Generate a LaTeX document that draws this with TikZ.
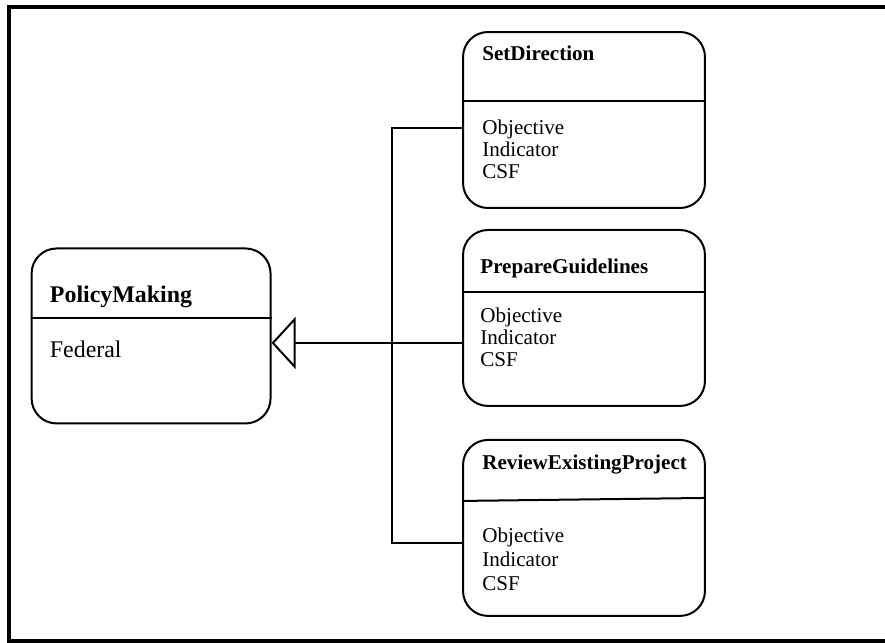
\documentclass[tikz,border=0pt]{standalone}
\usepackage{fontspec}
\setmainfont{Liberation Serif}
\usetikzlibrary{shapes,arrows.meta}
\tikzstyle{classbox} = [rectangle, draw, line width=0.04cm, rounded corners=0.5cm, minimum
width=4.84cm, minimum height=3.52cm, inner sep=0pt]
\tikzstyle{classname} = [anchor=base west, inner sep=0pt, font=\fontsize{12pt}{12.5pt}\selectfont\bfseries]
\tikzstyle{attr} = [anchor=base west, inner sep=0pt, font=\fontsize{12pt}{12.5pt}\selectfont]
\tikzstyle{line} = [draw, line width=0.04cm]
\tikzstyle{inherit} = [draw, line width=0.04cm, -{Triangle[open, length=0.48cm, width=1.04cm]}]
\begin{document}
\begin{tikzpicture}[x=0.02cm, y=-0.02cm]
			\useasboundingbox (0,0) rectangle (885,642);
			\draw [line width=0.08cm] (9,7) rectangle (900,641);
			% class boxes
			\node [classbox] (setdir) at (584,120) {};
			\node [classbox, below of=setdir, node distance=3.96cm] (prepare) {};
			\node [classbox, below of=prepare, node distance=4.2cm] (review) {};
			\node [classbox, left of=prepare, node distance=8.66cm, yshift=-0.36cm, minimum width=4.78cm,
			minimum height=3.5cm] (policy) {};
			% compartments
			\path [line] ([shift={(0,70)}]setdir.north west) -- ([shift={(0,70)}]setdir.north east);
			\path [line] ([shift={(0,63)}]prepare.north west) -- ([shift={(0,63)}]prepare.north east);
			\path [line] ([shift={(0,62)}]review.north west) -- ([shift={(0,59)}]review.north east);
			\path [line] ([shift={(0,71)}]policy.north west) -- ([shift={(0,71)}]policy.north east);
			% names and attributes
			\node [classname] (setdir-name) at ([shift={(20,29)}]setdir.north west) {SetDirection};
			\node [classname] (prepare-name) at ([shift={(18,45)}]prepare.north west) {PrepareGuidelines};
			\node [classname] (review-name) at ([shift={(20,31)}]review.north west) {ReviewExistingProject};
			\node [classname, font=\fontsize{13.6pt}{16pt}\selectfont\bfseries] (policy-name)
			at ([shift={(19,55)}]policy.north west) {PolicyMaking};
			\node [attr, font=\fontsize{13.6pt}{16pt}\selectfont] (policy-0) at ([shift={(19,110)}]policy.north west) {Federal};
			\foreach \a [count=\i from 0] in {Objective,Indicator,CSF} {
				\node [attr] (setdir-\i) at ([shift={(20,103+22*\i)}]setdir.north west) {\a};
				\node [attr] (prepare-\i) at ([shift={(18,94+22*\i)}]prepare.north west) {\a};
				\node [attr] (review-\i) at ([shift={(20,104+24*\i)}]review.north west) {\a};
			}
			% generalisation
			\coordinate (trunk) at (392,343);
			\coordinate (in1) at ([shift={(0,8)}]setdir.west);
			\coordinate (in2) at ([shift={(0,25)}]prepare.west);
			\coordinate (in3) at ([shift={(0,15)}]review.west);
			\path [line] (in1) -- (in1 -| trunk) -- (in3 -| trunk) -- (in3);
			\path [inherit] (in2) -- (policy.east |- in2);
		\end{tikzpicture}
\end{document}
